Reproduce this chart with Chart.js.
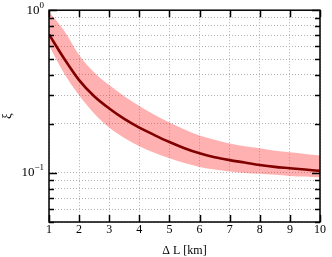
<!DOCTYPE html>
<html>
<head>
<meta charset="utf-8">
<script src="https://cdn.jsdelivr.net/npm/chart.js@4"></script>
<style>
  html, body { margin: 0; padding: 0; background: #fff; }
  #wrap { width: 332px; height: 257px; }
</style>
</head>
<body>
<div id="wrap"><canvas id="xi-chart"></canvas></div>
<script>
// distance steps (km) and xi estimates
const distanceKm = [1, 1.5, 2, 2.5, 3, 3.5, 4, 4.5, 5, 5.5, 6, 6.5, 7, 7.5, 8, 8.5, 9, 9.5, 10];
const xiMean  = [0.71, 0.505, 0.372, 0.296, 0.249, 0.215, 0.19, 0.171, 0.155, 0.142, 0.132, 0.125, 0.12, 0.116, 0.112, 0.109, 0.107, 0.105, 0.103];
const xiUpper = [0.98, 0.75, 0.53, 0.415, 0.347, 0.296, 0.258, 0.228, 0.204, 0.185, 0.17, 0.16, 0.152, 0.146, 0.142, 0.137, 0.134, 0.131, 0.128];
const xiLower = [0.61, 0.41, 0.30, 0.232, 0.19, 0.164, 0.146, 0.133, 0.123, 0.115, 0.109, 0.105, 0.102, 0.1, 0.099, 0.0975, 0.096, 0.095, 0.094];

const xTicks = [1, 2, 3, 4, 5, 6, 7, 8, 9, 10];
const yTicks = [0.05, 0.06, 0.07, 0.08, 0.09, 0.1, 0.2, 0.3, 0.4, 0.5, 0.6, 0.7, 0.8, 0.9, 1];
const yMajor = [{ value: 1, exp: '0' }, { value: 0.1, exp: '\u22121' }];

const FONT = '"Liberation Serif", "DejaVu Serif", serif';
const pts = (ys) => distanceKm.map((x, i) => ({ x: x, y: ys[i] }));

// frame, inward ticks and the 10^n labels
const axesDecor = {
    id: 'axesDecor',
    afterDraw(chart) {
        const { ctx, chartArea: a } = chart;
        const xs = chart.scales.x, ys = chart.scales.y;
        ctx.save();
        ctx.strokeStyle = '#000';
        ctx.lineWidth = 1.5;
        ctx.strokeRect(a.left, a.top, a.right - a.left, a.bottom - a.top);
        ctx.beginPath();
        xTicks.forEach(v => {
            const px = Math.round(xs.getPixelForValue(v)) + 0.5;
            ctx.moveTo(px, a.bottom); ctx.lineTo(px, a.bottom - 7);
            ctx.moveTo(px, a.top); ctx.lineTo(px, a.top + 7);
        });
        yTicks.forEach(v => {
            const py = Math.round(ys.getPixelForValue(v)) + 0.5;
            const len = (v === 0.1 || v === 1) ? 8 : 5;
            ctx.moveTo(a.left, py); ctx.lineTo(a.left + len, py);
            ctx.moveTo(a.right, py); ctx.lineTo(a.right - len, py);
        });
        ctx.stroke();

        ctx.fillStyle = '#000';
        ctx.textBaseline = 'middle';
        yMajor.forEach(m => {
            const py = ys.getPixelForValue(m.value);
            ctx.font = '9px ' + FONT;
            const ew = ctx.measureText(m.exp).width;
            const right = a.left - 5;
            ctx.textAlign = 'right';
            ctx.fillText(m.exp, right, py - 5);
            ctx.font = '13px ' + FONT;
            ctx.fillText('10', right - ew, py);
        });
        ctx.restore();
    }
};

const ctx = document.getElementById('xi-chart').getContext('2d');
new Chart(ctx, {
    type: 'line',
    data: {
        datasets: [{
            label: 'mean',
            data: pts(xiMean),
            borderColor: '#800000',
            borderWidth: 2.6,
            pointRadius: 0,
            cubicInterpolationMode: 'monotone',
            fill: false,
            order: 0
        }, {
            label: 'upper',
            data: pts(xiUpper),
            borderWidth: 0,
            borderColor: 'rgba(0,0,0,0)',
            backgroundColor: 'rgba(255, 60, 60, 0.4)',
            pointRadius: 0,
            cubicInterpolationMode: 'monotone',
            fill: '+1',
            order: 1
        }, {
            label: 'lower',
            data: pts(xiLower),
            borderWidth: 0,
            borderColor: 'rgba(0,0,0,0)',
            pointRadius: 0,
            cubicInterpolationMode: 'monotone',
            fill: false,
            order: 2
        }]
    },
    options: {
        responsive: true,
        maintainAspectRatio: false,
        animation: false,
        layout: { padding: { top: 10, right: 12, left: 0, bottom: 0 } },
        plugins: {
            legend: { display: false },
            tooltip: { enabled: false }
        },
        scales: {
            x: {
                type: 'linear',
                min: 1,
                max: 10,
                afterBuildTicks: (s) => { s.ticks = xTicks.map(v => ({ value: v })); },
                ticks: {
                    color: '#000',
                    font: { family: FONT, size: 12 },
                    padding: 1,
                    maxRotation: 0,
                    autoSkip: false
                },
                grid: { color: '#b0b0b0', lineWidth: 1, drawTicks: false },
                border: { display: false, dash: [1, 2] },
                title: {
                    display: true,
                    text: 'Δ L [km]',
                    color: '#000',
                    font: { family: FONT, size: 12, lineHeight: 1.0 },
                    padding: { top: 0, bottom: 0 }
                },
                afterFit: (s) => { s.height = 35; }
            },
            y: {
                type: 'logarithmic',
                min: 0.05,
                max: 1,
                afterBuildTicks: (s) => { s.ticks = yTicks.map(v => ({ value: v })); },
                ticks: {
                    callback: () => '',
                    autoSkip: false
                },
                grid: { color: '#b0b0b0', lineWidth: 1, drawTicks: false },
                border: { display: false, dash: [1, 2] },
                title: {
                    display: true,
                    text: 'ξ',
                    color: '#000',
                    font: { family: FONT, size: 13 },
                    padding: { top: 0, bottom: 0 }
                },
                afterFit: (s) => { s.width = 49; }
            }
        }
    },
    plugins: [axesDecor]
});
</script>
</body>
</html>
